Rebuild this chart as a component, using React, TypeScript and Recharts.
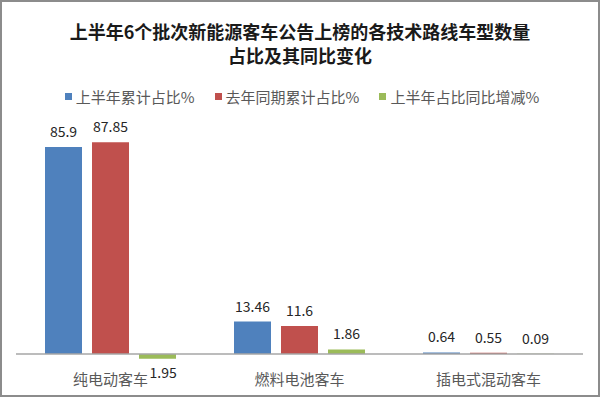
import React from "react";
import { BarChart, Bar, XAxis, YAxis, ReferenceLine, LabelList } from "recharts";

// categories and series
const categories = ["纯电动客车", "燃料电池客车", "插电式混动客车"];
const shareH1 = [85.9, 13.46, 0.64];
const shareLastYear = [87.85, 11.6, 0.55];
const shareChange = [-1.95, 1.86, 0.09];

const seriesNames = ["上半年累计占比%", "去年同期累计占比%", "上半年占比同比增减%"];
const colors = ["#4F81BD", "#C0504D", "#9BBB59"];

const data = categories.map((name, i) => ({
  name,
  a: shareH1[i],
  b: shareLastYear[i],
  c: shareChange[i],
}));

const FONT = "'Noto Sans CJK SC', 'Noto Sans', sans-serif";

// value labels: positives above the bar, the negative one sits down next to the axis label
function ValueLabel(props: any) {
  const { x, y, width, height, value } = props;
  const cx = x + width / 2;
  if (value < 0) {
    return (
      <text x={cx - 8} y={y + height + 24} textAnchor="start" fontSize={14} fill="#262626" fontFamily={FONT}>
        {Math.abs(value)}
      </text>
    );
  }
  return (
    <text x={cx} y={y - 10} textAnchor="middle" fontSize={14} fill="#262626" fontFamily={FONT}>
      {value}
    </text>
  );
}

function Legend() {
  return (
    <div
      style={{
        position: "absolute",
        top: 84,
        left: 0,
        width: 600,
        display: "flex",
        justifyContent: "center",
        gap: 20,
        fontSize: 15,
        color: "#595959",
        fontFamily: FONT,
      }}
    >
      {seriesNames.map((n, i) => (
        <div key={n} style={{ display: "flex", alignItems: "center" }}>
          <span style={{ width: 7, height: 7, background: colors[i], marginRight: 4, display: "inline-block" }} />
          <span>{n}</span>
        </div>
      ))}
    </div>
  );
}

export default function App() {
  return (
    <div
      style={{
        position: "absolute",
        left: 0,
        top: 0,
        width: 600,
        height: 397,
        boxSizing: "border-box",
        border: "2px solid #8c8c8c",
        background: "#fff",
        fontFamily: FONT,
      }}
    >
      <div
        style={{
          position: "absolute",
          top: 17,
          left: 0,
          width: 596,
          textAlign: "center",
          fontSize: 18,
          fontWeight: "bold",
          lineHeight: "24px",
          color: "#1a1a1a",
        }}
      >
        上半年6个批次新能源客车公告上榜的各技术路线车型数量
        <br />
        占比及其同比变化
      </div>
      <Legend />
      <div style={{ position: "absolute", left: -2, top: -2 }}>
        <BarChart
          width={600}
          height={397}
          data={data}
          margin={{ top: 113, right: 17, bottom: 9, left: 16 }}
          barSize={37}
          barGap={10}
        >
          <XAxis
            dataKey="name"
            axisLine={false}
            tickLine={false}
            height={22}
            tick={{ fontSize: 15, fill: "#595959", fontFamily: FONT }}
            tickSize={0}
            dy={6}
          />
          <YAxis hide domain={[-5, 100]} />
          <ReferenceLine y={0} stroke="#a6a6a6" strokeWidth={1.5} />
          {(["a", "b", "c"] as const).map((k, i) => (
            <Bar key={k} dataKey={k} fill={colors[i]} isAnimationActive={false}>
              <LabelList dataKey={k} content={<ValueLabel />} />
            </Bar>
          ))}
        </BarChart>
      </div>
    </div>
  );
}
